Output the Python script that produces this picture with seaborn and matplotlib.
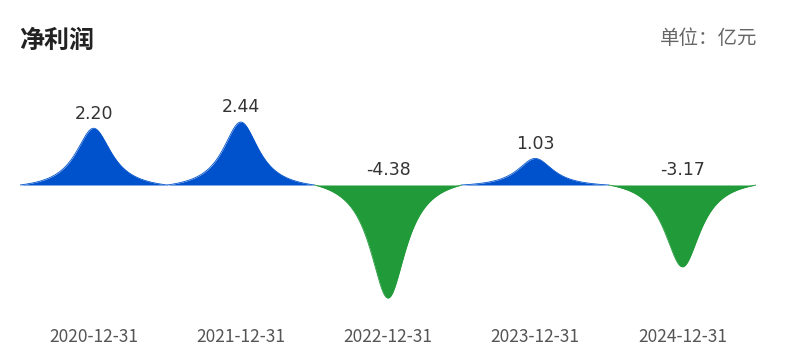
import numpy as np
import pandas as pd
import seaborn as sns
import matplotlib.pyplot as plt

# net profit, unit: 100 million yuan
dates = ["2020-12-31", "2021-12-31", "2022-12-31", "2023-12-31", "2024-12-31"]
profit = [2.20, 2.44, -4.38, 1.03, -3.17]
labels = ["2.20", "2.44", "-4.38", "1.03", "-3.17"]

sns.set_theme(style="white")
plt.rcParams['font.family'] = ['Noto Sans CJK SC', 'DejaVu Sans']

POS = "#0052cc"
NEG = "#219a3a"


def spike(w=0.3):
    # peak profile (lorentz-like), 0 at the edges, 1 at the centre
    x = np.linspace(-1, 1, 301)
    l = 1 / (1 + (x / w) ** 2)
    l1 = 1 / (1 + (1 / w) ** 2)
    return x, (l - l1) / (1 - l1)


sx, sy = spike()
rows = []
for i, v in enumerate(profit):
    for a, b in zip(sx, sy):
        rows.append({"x": i + a * 0.5, "y": v * b, "k": dates[i]})
df = pd.DataFrame(rows)

fig = plt.figure(figsize=(8, 3.52), dpi=100)
ax = fig.add_axes([0.025, 42 / 352, 0.92, 220 / 352])

for i, v in enumerate(profit):
    col = POS if v >= 0 else NEG
    d = df[df["k"] == dates[i]]
    ax.fill_between(d["x"], 0, d["y"], color=col, linewidth=0)
    sns.lineplot(data=d, x="x", y="y", ax=ax, color=col, linewidth=0.6,
                 sort=False, estimator=None)
    ax.annotate(labels[i], (i, max(v, 0)), xytext=(0, 10.5), textcoords="offset points",
                ha="center", va="center", fontsize=12.5, color="#333333",
                family="DejaVu Sans")

ax.set_xlim(-0.5, 4.5)
ax.set_ylim(-4.845, 3.682)
ax.set_xticks(range(len(dates)))
ax.set_xticklabels(dates, fontsize=12.5, color="#555555")
ax.set_yticks([])
ax.tick_params(axis="x", length=0, pad=13)
ax.set_xlabel("")
ax.set_ylabel("")
sns.despine(ax=ax, left=True, bottom=True)

fig.text(19 / 800, 1 - 41 / 352, "净利润", fontsize=18, fontweight="bold",
         color="#222222", va="center", ha="left")
fig.text(757 / 800, 1 - 38 / 352, "单位：亿元", fontsize=14, color="#666666",
         va="center", ha="right")

fig.savefig("out.png", dpi=100)
